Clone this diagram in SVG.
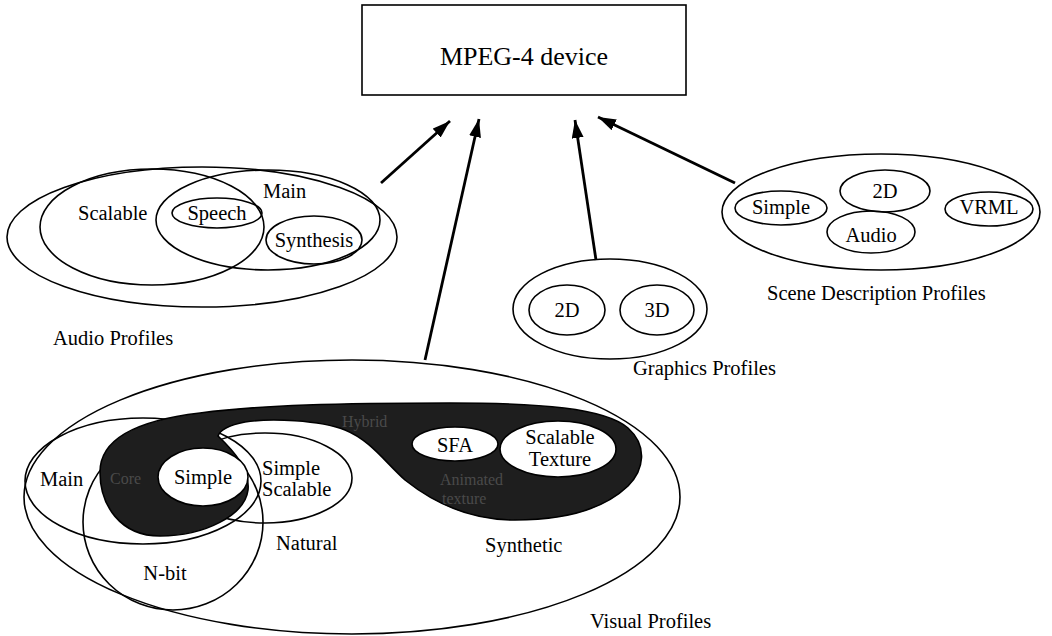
<svg xmlns="http://www.w3.org/2000/svg" width="1052" height="636" viewBox="0 0 1052 636">
<defs>
<style>
.t{font-family:"Liberation Serif","Times New Roman",serif;font-size:20.5px;fill:#000}
.big{font-size:26px}
.e{fill:none;stroke:#000;stroke-width:1.6}
.w{fill:#fff;stroke:#000;stroke-width:1.6}
.blob{fill:#1e1e1e;stroke:#000;stroke-width:1.6}
.hid{font-family:"Liberation Serif","Times New Roman",serif;font-size:16px;fill:#4a4a4a}
.c{stroke:#000;stroke-width:2.8;fill:none;marker-end:url(#ah)}
</style>
<marker id="ah" markerUnits="userSpaceOnUse" markerWidth="20" markerHeight="14" refX="18" refY="6" orient="auto">
<path d="M0,0 L18,6 L0,12 Z" fill="#000"/>
</marker>
</defs>
<rect width="1052" height="636" fill="#fff"/>

<g id="device">
<rect x="362" y="5" width="324" height="90" fill="#fff" stroke="#000" stroke-width="1.6"/>
<text class="t big" x="524" y="65" text-anchor="middle">MPEG-4 device</text>
</g>

<g id="connectors">
<line class="c" x1="381" y1="183" x2="450" y2="121"/>
<line class="c" x1="425" y1="360" x2="479" y2="119"/>
<line class="c" x1="596" y1="260" x2="575" y2="120"/>
<line class="c" x1="735" y1="183" x2="598" y2="117"/>
</g>

<g id="audio">
<ellipse class="e" cx="202" cy="237" rx="195" ry="70"/>
<ellipse class="e" cx="152" cy="227" rx="112" ry="58"/>
<ellipse class="e" cx="268" cy="220" rx="112" ry="50"/>
<ellipse class="e" cx="217" cy="213" rx="45" ry="15"/>
<ellipse class="e" cx="314" cy="240" rx="48" ry="24"/>
<text class="t" x="78" y="220">Scalable</text>
<text class="t" x="263" y="198">Main</text>
<text class="t" x="217" y="220" text-anchor="middle">Speech</text>
<text class="t" x="314" y="247" text-anchor="middle">Synthesis</text>
<text class="t" x="53" y="345">Audio Profiles</text>
</g>

<g id="graphics">
<ellipse class="e" cx="610" cy="309" rx="97" ry="50"/>
<ellipse class="e" cx="567" cy="310" rx="38" ry="25"/>
<ellipse class="e" cx="657" cy="310" rx="37" ry="25"/>
<text class="t" x="567" y="317" text-anchor="middle">2D</text>
<text class="t" x="657" y="317" text-anchor="middle">3D</text>
<text class="t" x="633" y="375">Graphics Profiles</text>
</g>

<g id="scene">
<ellipse class="e" cx="881" cy="212" rx="159" ry="58"/>
<ellipse class="e" cx="781" cy="208" rx="46" ry="17"/>
<ellipse class="e" cx="885" cy="191" rx="45" ry="21"/>
<ellipse class="e" cx="871" cy="232" rx="44" ry="21"/>
<ellipse class="e" cx="989" cy="209" rx="44" ry="17"/>
<text class="t" x="781" y="214" text-anchor="middle">Simple</text>
<text class="t" x="885" y="198" text-anchor="middle">2D</text>
<text class="t" x="871" y="242" text-anchor="middle">Audio</text>
<text class="t" x="989" y="214" text-anchor="middle">VRML</text>
<text class="t" x="767" y="300">Scene Description Profiles</text>
</g>

<g id="visual">
<ellipse class="e" cx="352" cy="497" rx="328" ry="137"/>
<ellipse class="e" cx="143" cy="481" rx="118" ry="63"/>
<ellipse class="e" cx="173" cy="522" rx="90" ry="88"/>
<ellipse class="e" cx="265" cy="478" rx="87" ry="45"/>
<path class="blob" d="M100,472 C100,438 140,420 200,413 C260,405 340,403 450,403 C540,403 605,408 628,428 C648,446 644,470 628,486 C605,508 570,520 515,520 C465,520 430,500 405,480 C385,462 370,440 345,430 C320,420 270,418 245,422 C230,425 220,430 218,436 C235,452 250,470 248,490 C245,515 205,536 160,536 C120,536 100,505 100,472 Z"/>
<text class="hid" x="342" y="427">Hybrid</text>
<text class="hid" x="110" y="484">Core</text>
<text class="hid" x="440" y="485">Animated</text>
<text class="hid" x="442" y="504">texture</text>
<ellipse class="w" cx="203" cy="477" rx="45" ry="29"/>
<ellipse class="w" cx="455" cy="444" rx="43" ry="17"/>
<ellipse class="w" cx="558" cy="449" rx="58" ry="28"/>
<text class="t" x="203" y="484" text-anchor="middle">Simple</text>
<text class="t" x="455" y="452" text-anchor="middle">SFA</text>
<text class="t" x="560" y="444" text-anchor="middle">Scalable</text>
<text class="t" x="560" y="466" text-anchor="middle">Texture</text>
<text class="t" x="262" y="475">Simple</text>
<text class="t" x="262" y="496">Scalable</text>
<text class="t" x="40" y="486">Main</text>
<text class="t" x="165" y="580" text-anchor="middle">N-bit</text>
<text class="t" x="276" y="550">Natural</text>
<text class="t" x="485" y="552">Synthetic</text>
<text class="t" x="590" y="628">Visual Profiles</text>
</g>
</svg>
